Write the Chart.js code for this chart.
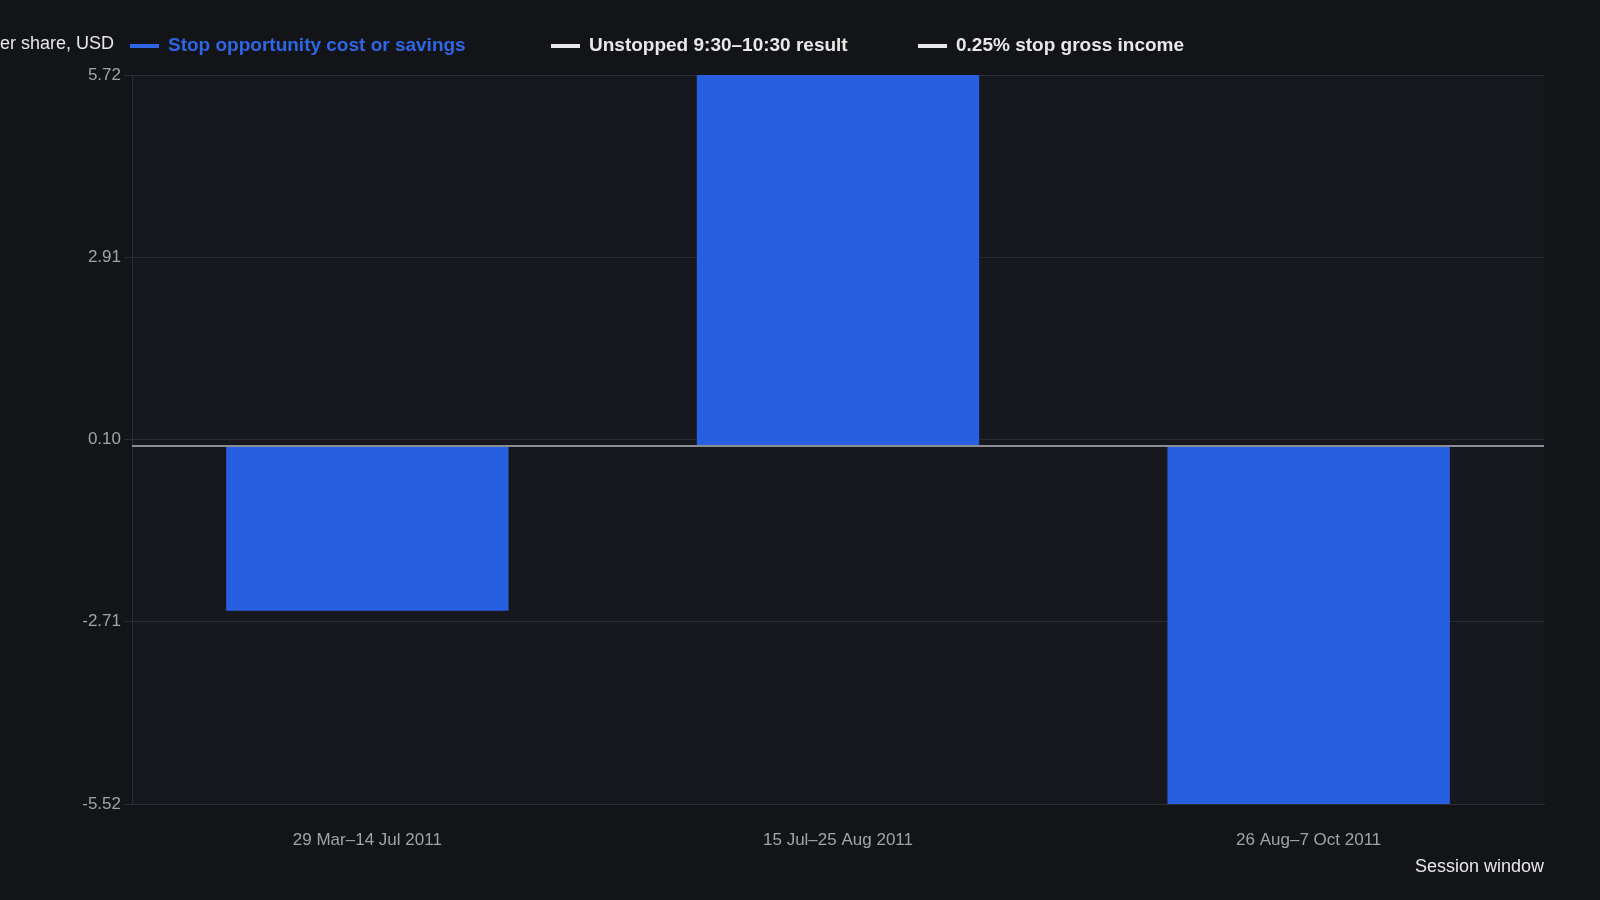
<!DOCTYPE html>
<html lang="en">
<head>
<meta charset="UTF-8">
<title>Stop opportunity cost</title>
<script src="https://cdn.jsdelivr.net/npm/chart.js"></script>
<style>
  body { margin: 0; background: #121418; }
  #wrap { width: 1600px; height: 900px; position: relative; }
</style>
</head>
<body>
<div id="wrap"><canvas id="c" width="1600" height="900"></canvas></div>
<script>
const categories = ['29 Mar\u201314 Jul 2011', '15 Jul\u201325 Aug 2011', '26 Aug\u20137 Oct 2011'];
const stopCost = [-2.54, 5.72, -5.52];
const unstopped = [null, null, null];
const stopIncome = [null, null, null];
const yTicks = [-5.52, -2.71, 0.10, 2.91, 5.72];

const legendItems = [
  { text: 'Stop opportunity cost or savings', color: '#2e66e6', textColor: '#2e66e6', x: 130 },
  { text: 'Unstopped 9:30\u201310:30 result', color: '#e8e8e8', textColor: '#e8e8e8', x: 551 },
  { text: '0.25% stop gross income', color: '#e8e8e8', textColor: '#e8e8e8', x: 918 }
];

const decor = {
  id: 'decor',
  beforeDraw(chart) {
    const { ctx, chartArea: a } = chart;
    ctx.save();
    ctx.fillStyle = '#16181d';
    ctx.fillRect(a.left, a.top, a.right - a.left, a.bottom - a.top);
    ctx.restore();
  },
  afterDatasetsDraw(chart) {
    const { ctx, chartArea: a, scales } = chart;
    const y0 = scales.y.getPixelForValue(0);
    ctx.save();
    ctx.strokeStyle = '#8a8d93';
    ctx.lineWidth = 2;
    ctx.beginPath(); ctx.moveTo(a.left, y0); ctx.lineTo(a.right, y0); ctx.stroke();
    ctx.restore();
  },
  afterDraw(chart) {
    const { ctx, chartArea: a } = chart;
    ctx.save();
    ctx.font = '18px "Liberation Sans", Arial, sans-serif';
    ctx.fillStyle = '#e8e8e8';
    ctx.textBaseline = 'middle';
    ctx.textAlign = 'right';
    ctx.fillText('Per share, USD', 114, 44);
    ctx.textAlign = 'right';
    ctx.fillText('Session window', a.right, 867);
    ctx.textAlign = 'left';
    ctx.font = 'bold 19px "Liberation Sans", Arial, sans-serif';
    legendItems.forEach(it => {
      ctx.strokeStyle = it.color;
      ctx.lineWidth = 4;
      ctx.beginPath(); ctx.moveTo(it.x, 46); ctx.lineTo(it.x + 29, 46); ctx.stroke();
      ctx.fillStyle = it.textColor;
      ctx.fillText(it.text, it.x + 38, 46);
    });
    ctx.restore();
  }
};

new Chart(document.getElementById('c'), {
  type: 'bar',
  data: {
    labels: categories,
    datasets: [
      { label: 'Stop opportunity cost or savings', data: stopCost, backgroundColor: '#2660e0',
        categoryPercentage: 1, barPercentage: 0.6 },
      { type: 'line', label: 'Unstopped 9:30\u201310:30 result', data: unstopped, borderColor: '#e8e8e8' },
      { type: 'line', label: '0.25% stop gross income', data: stopIncome, borderColor: '#e8e8e8' }
    ]
  },
  options: {
    responsive: false,
    animation: false,
    layout: { padding: { top: 75, right: 56, bottom: 46, left: 0 } },
    plugins: { legend: { display: false }, tooltip: { enabled: false } },
    scales: {
      x: {
        grid: { display: false },
        border: { color: '#2a2d33' },
        ticks: { color: '#a0a3a8', font: { size: 17, family: '"Liberation Sans", Arial' }, padding: 18 },
        afterFit(s) { s.height = 50; }
      },
      y: {
        min: -5.52, max: 5.72,
        afterBuildTicks(s) { s.ticks = yTicks.map(v => ({ value: v })); },
        grid: { color: '#2a2d33' },
        border: { color: '#2a2d33' },
        ticks: { color: '#a0a3a8', font: { size: 17, family: '"Liberation Sans", Arial' },
          callback: v => v.toFixed(2) },
        afterFit(s) { s.width = 132; }
      }
    }
  },
  plugins: [decor]
});
</script>
</body>
</html>
